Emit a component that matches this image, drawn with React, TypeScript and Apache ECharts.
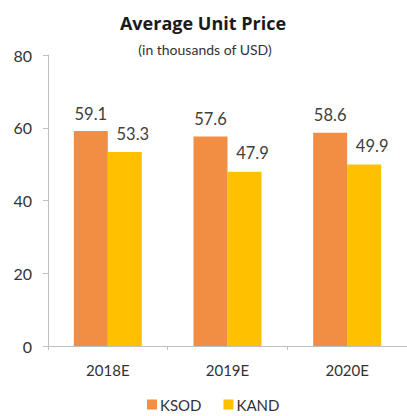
import React, { useEffect, useRef } from "react";
import * as echarts from "echarts";

const categories = ["2018E", "2019E", "2020E"];
const ksod = [59.1, 57.6, 58.6];
const kand = [53.3, 47.9, 49.9];
const yTicks = { min: 0, max: 80, interval: 20 };

const FONT = "Lato, 'Open Sans', sans-serif";

export default function App() {
  const ref = useRef<HTMLDivElement>(null);
  useEffect(() => {
    if (!ref.current) return;
    const chart = echarts.init(ref.current, null, { renderer: "svg" });
    chart.setOption({
      animation: false,
      backgroundColor: "#ffffff",
      title: [
        {
          text: "Average Unit Price",
          left: 198,
          textAlign: "center",
          top: 9,
          textStyle: { fontFamily: "'Open Sans', sans-serif", fontSize: 18, fontWeight: "bold", color: "#1a1a1a" },
        },
        {
          text: "(in thousands of USD)",
          left: 200,
          textAlign: "center",
          top: 37,
          textStyle: { fontFamily: FONT, fontSize: 14, fontWeight: "normal", color: "#333333" },
        },
      ],
      legend: {
        data: ["KSOD", "KAND"],
        top: 392,
        left: 142,
        itemWidth: 10,
        itemHeight: 10,
        itemGap: 22,
        icon: "rect",
        textStyle: { fontFamily: FONT, fontSize: 15, color: "#333333", padding: [0, 0, 0, -2] },
      },
      grid: { left: 48, right: -8, top: 55, bottom: 70, containLabel: false },
      xAxis: {
        type: "category",
        data: categories,
        axisLine: { lineStyle: { color: "#bfbfbf" } },
        axisTick: { show: true, length: 4, lineStyle: { color: "#bfbfbf" } },
        axisLabel: { fontFamily: FONT, fontSize: 15, color: "#333333", margin: 16 },
      },
      yAxis: {
        type: "value",
        min: yTicks.min,
        max: yTicks.max,
        interval: yTicks.interval,
        axisLine: { show: true, lineStyle: { color: "#bfbfbf" } },
        axisTick: { show: true, length: 5, lineStyle: { color: "#bfbfbf" } },
        splitLine: { show: false },
        axisLabel: { fontFamily: FONT, fontSize: 16, color: "#333333", margin: 16 },
      },
      series: [
        {
          name: "KSOD",
          type: "bar",
          data: ksod,
          barWidth: 34,
          barGap: "0%",
          itemStyle: { color: "#F28E44" },
          label: {
            show: true,
            position: "top",
            distance: 9,
            fontFamily: FONT,
            fontSize: 16.5,
            color: "#404040",
          },
        },
        {
          name: "KAND",
          type: "bar",
          data: kand,
          barWidth: 34,
          barGap: "0%",
          itemStyle: { color: "#FFC000" },
          label: {
            show: true,
            position: "top",
            distance: 10,
            offset: [8, 0],
            fontFamily: FONT,
            fontSize: 16.5,
            color: "#404040",
          },
        },
      ],
    });
    return () => chart.dispose();
  }, []);
  return (
    <div
      ref={ref}
      style={{ position: "absolute", left: 0, top: 0, width: 407, height: 416 }}
    />
  );
}
